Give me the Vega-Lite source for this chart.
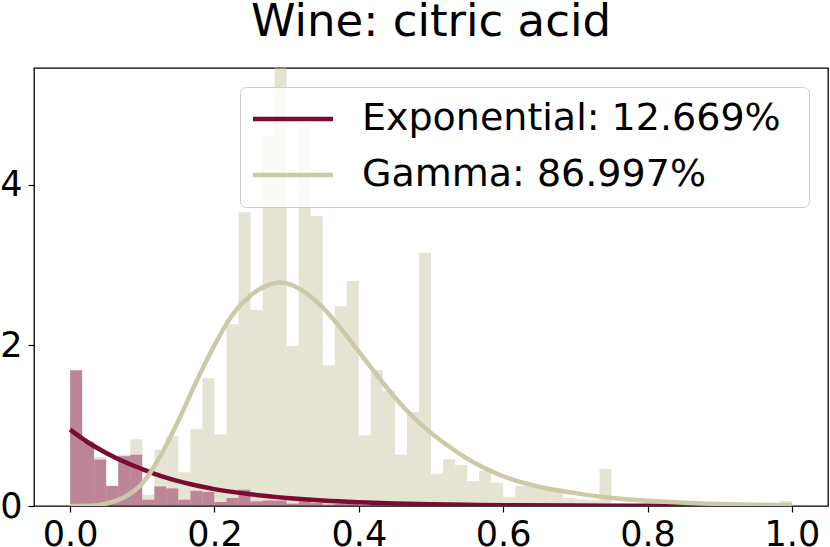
{
  "$schema": "https://vega.github.io/schema/vega-lite/v6.json",
  "width": 794,
  "height": 438,
  "autosize": {"type": "none"},
  "padding": {"left": 34, "top": 68, "right": 2, "bottom": 41},
  "background": "white",
  "config": {
    "view": {"stroke": "#000000", "strokeWidth": 1.3},
    "font": "DejaVu Sans"
  },
  "title": {"text": "Wine: citric acid", "fontSize": 45, "font": "DejaVu Sans", "fontWeight": "normal", "color": "#000000", "anchor": "middle", "offset": 23},
  "datasets": {
    "hist": [
      {"lo": 0, "hi": 0.01667, "Exponential": 1.69, "Gamma": 0},
      {"lo": 0.01667, "hi": 0.03333, "Exponential": 0.80, "Gamma": 0},
      {"lo": 0.03333, "hi": 0.05, "Exponential": 0.58, "Gamma": 0.03},
      {"lo": 0.05, "hi": 0.06667, "Exponential": 0.25, "Gamma": 0},
      {"lo": 0.06667, "hi": 0.08333, "Exponential": 0.62, "Gamma": 0.02},
      {"lo": 0.08333, "hi": 0.1, "Exponential": 0.64, "Gamma": 0.19},
      {"lo": 0.1, "hi": 0.11667, "Exponential": 0.08, "Gamma": 0.06},
      {"lo": 0.11667, "hi": 0.13333, "Exponential": 0.245, "Gamma": 0.455},
      {"lo": 0.13333, "hi": 0.15, "Exponential": 0.22, "Gamma": 0.65},
      {"lo": 0.15, "hi": 0.16667, "Exponential": 0.08, "Gamma": 0.34},
      {"lo": 0.16667, "hi": 0.18333, "Exponential": 0.19, "Gamma": 0.77},
      {"lo": 0.18333, "hi": 0.2, "Exponential": 0.175, "Gamma": 1.415},
      {"lo": 0.2, "hi": 0.21667, "Exponential": 0.05, "Gamma": 0.84},
      {"lo": 0.21667, "hi": 0.23333, "Exponential": 0.10, "Gamma": 2.16},
      {"lo": 0.23333, "hi": 0.25, "Exponential": 0.205, "Gamma": 3.45},
      {"lo": 0.25, "hi": 0.26667, "Exponential": 0.06, "Gamma": 2.38},
      {"lo": 0.26667, "hi": 0.28333, "Exponential": 0.07, "Gamma": 4.54},
      {"lo": 0.28333, "hi": 0.3, "Exponential": 0.07, "Gamma": 5.83},
      {"lo": 0.3, "hi": 0.31667, "Exponential": 0.03, "Gamma": 1.96},
      {"lo": 0.31667, "hi": 0.33333, "Exponential": 0.06, "Gamma": 4.67},
      {"lo": 0.33333, "hi": 0.35, "Exponential": 0.04, "Gamma": 3.57},
      {"lo": 0.35, "hi": 0.36667, "Exponential": 0.02, "Gamma": 1.73},
      {"lo": 0.36667, "hi": 0.38333, "Exponential": 0.03, "Gamma": 2.455},
      {"lo": 0.38333, "hi": 0.4, "Exponential": 0.03, "Gamma": 2.77},
      {"lo": 0.4, "hi": 0.41667, "Exponential": 0.01, "Gamma": 0.87},
      {"lo": 0.41667, "hi": 0.43333, "Exponential": 0.02, "Gamma": 1.67},
      {"lo": 0.43333, "hi": 0.45, "Exponential": 0.02, "Gamma": 1.41},
      {"lo": 0.45, "hi": 0.46667, "Exponential": 0.01, "Gamma": 0.63},
      {"lo": 0.46667, "hi": 0.48333, "Exponential": 0.01, "Gamma": 1.16},
      {"lo": 0.48333, "hi": 0.5, "Exponential": 0.05, "Gamma": 3.10},
      {"lo": 0.5, "hi": 0.51667, "Exponential": 0.005, "Gamma": 0.395},
      {"lo": 0.51667, "hi": 0.53333, "Exponential": 0.005, "Gamma": 0.575},
      {"lo": 0.53333, "hi": 0.55, "Exponential": 0.005, "Gamma": 0.505},
      {"lo": 0.55, "hi": 0.56667, "Exponential": 0.003, "Gamma": 0.307},
      {"lo": 0.56667, "hi": 0.58333, "Exponential": 0.003, "Gamma": 0.437},
      {"lo": 0.58333, "hi": 0.6, "Exponential": 0.002, "Gamma": 0.288},
      {"lo": 0.6, "hi": 0.61667, "Exponential": 0.001, "Gamma": 0.109},
      {"lo": 0.61667, "hi": 0.63333, "Exponential": 0.002, "Gamma": 0.248},
      {"lo": 0.63333, "hi": 0.65, "Exponential": 0.002, "Gamma": 0.258},
      {"lo": 0.65, "hi": 0.66667, "Exponential": 0.002, "Gamma": 0.238},
      {"lo": 0.66667, "hi": 0.68333, "Exponential": 0.002, "Gamma": 0.218},
      {"lo": 0.68333, "hi": 0.7, "Exponential": 0.001, "Gamma": 0.099},
      {"lo": 0.7, "hi": 0.71667, "Exponential": 0.001, "Gamma": 0.079},
      {"lo": 0.71667, "hi": 0.73333, "Exponential": 0.001, "Gamma": 0.069},
      {"lo": 0.73333, "hi": 0.75, "Exponential": 0.003, "Gamma": 0.457},
      {"lo": 0.75, "hi": 0.76667, "Exponential": 0.0, "Gamma": 0.03},
      {"lo": 0.98333, "hi": 1.0, "Exponential": 0.0005, "Gamma": 0.06}
    ],
    "curves": [
      {"x": 0, "y": 0.95, "series": "Exponential: 12.669%"},
      {"x": 0.025, "y": 0.79, "series": "Exponential: 12.669%"},
      {"x": 0.05, "y": 0.66, "series": "Exponential: 12.669%"},
      {"x": 0.075, "y": 0.55, "series": "Exponential: 12.669%"},
      {"x": 0.1, "y": 0.46, "series": "Exponential: 12.669%"},
      {"x": 0.125, "y": 0.375, "series": "Exponential: 12.669%"},
      {"x": 0.15, "y": 0.31, "series": "Exponential: 12.669%"},
      {"x": 0.175, "y": 0.255, "series": "Exponential: 12.669%"},
      {"x": 0.2, "y": 0.21, "series": "Exponential: 12.669%"},
      {"x": 0.25, "y": 0.145, "series": "Exponential: 12.669%"},
      {"x": 0.3, "y": 0.10, "series": "Exponential: 12.669%"},
      {"x": 0.35, "y": 0.068, "series": "Exponential: 12.669%"},
      {"x": 0.4, "y": 0.047, "series": "Exponential: 12.669%"},
      {"x": 0.45, "y": 0.032, "series": "Exponential: 12.669%"},
      {"x": 0.5, "y": 0.022, "series": "Exponential: 12.669%"},
      {"x": 0.55, "y": 0.015, "series": "Exponential: 12.669%"},
      {"x": 0.6, "y": 0.01, "series": "Exponential: 12.669%"},
      {"x": 0.7, "y": 0.005, "series": "Exponential: 12.669%"},
      {"x": 0.8, "y": 0.002, "series": "Exponential: 12.669%"},
      {"x": 0.9, "y": 0.001, "series": "Exponential: 12.669%"},
      {"x": 1.0, "y": 0.0005, "series": "Exponential: 12.669%"},
      {"x": 0, "y": 0, "series": "Gamma: 86.997%"},
      {"x": 0.025, "y": 0.003, "series": "Gamma: 86.997%"},
      {"x": 0.05, "y": 0.03, "series": "Gamma: 86.997%"},
      {"x": 0.075, "y": 0.11, "series": "Gamma: 86.997%"},
      {"x": 0.1, "y": 0.28, "series": "Gamma: 86.997%"},
      {"x": 0.125, "y": 0.62, "series": "Gamma: 86.997%"},
      {"x": 0.15, "y": 1.06, "series": "Gamma: 86.997%"},
      {"x": 0.175, "y": 1.55, "series": "Gamma: 86.997%"},
      {"x": 0.2, "y": 2.0, "series": "Gamma: 86.997%"},
      {"x": 0.225, "y": 2.38, "series": "Gamma: 86.997%"},
      {"x": 0.25, "y": 2.62, "series": "Gamma: 86.997%"},
      {"x": 0.275, "y": 2.75, "series": "Gamma: 86.997%"},
      {"x": 0.29, "y": 2.78, "series": "Gamma: 86.997%"},
      {"x": 0.3, "y": 2.77, "series": "Gamma: 86.997%"},
      {"x": 0.325, "y": 2.66, "series": "Gamma: 86.997%"},
      {"x": 0.35, "y": 2.47, "series": "Gamma: 86.997%"},
      {"x": 0.375, "y": 2.21, "series": "Gamma: 86.997%"},
      {"x": 0.4, "y": 1.92, "series": "Gamma: 86.997%"},
      {"x": 0.425, "y": 1.63, "series": "Gamma: 86.997%"},
      {"x": 0.45, "y": 1.35, "series": "Gamma: 86.997%"},
      {"x": 0.475, "y": 1.11, "series": "Gamma: 86.997%"},
      {"x": 0.5, "y": 0.91, "series": "Gamma: 86.997%"},
      {"x": 0.525, "y": 0.74, "series": "Gamma: 86.997%"},
      {"x": 0.55, "y": 0.59, "series": "Gamma: 86.997%"},
      {"x": 0.575, "y": 0.47, "series": "Gamma: 86.997%"},
      {"x": 0.6, "y": 0.37, "series": "Gamma: 86.997%"},
      {"x": 0.65, "y": 0.24, "series": "Gamma: 86.997%"},
      {"x": 0.7, "y": 0.16, "series": "Gamma: 86.997%"},
      {"x": 0.75, "y": 0.10, "series": "Gamma: 86.997%"},
      {"x": 0.8, "y": 0.065, "series": "Gamma: 86.997%"},
      {"x": 0.85, "y": 0.04, "series": "Gamma: 86.997%"},
      {"x": 0.9, "y": 0.025, "series": "Gamma: 86.997%"},
      {"x": 0.95, "y": 0.015, "series": "Gamma: 86.997%"},
      {"x": 1.0, "y": 0.01, "series": "Gamma: 86.997%"}
    ]
  },
  "layer": [
    {
      "data": {"name": "hist"},
      "transform": [
        {"fold": ["Exponential", "Gamma"], "as": ["part", "h"]},
        {"stack": "h", "groupby": ["lo"], "sort": [{"field": "part", "order": "ascending"}], "as": ["h0", "h1"]}
      ],
      "mark": {"type": "bar", "clip": true, "fillOpacity": 0.5, "strokeWidth": 0, "orient": "vertical"},
      "encoding": {
        "x": {
          "field": "lo", "type": "quantitative",
          "scale": {"domain": [-0.05, 1.05], "nice": false, "zero": false, "padding": 0},
          "axis": {"values": [0, 0.2, 0.4, 0.6, 0.8, 1.0], "format": ".1f", "title": null, "grid": false, "domain": false,
                   "tickSize": 6, "tickWidth": 1.2, "tickColor": "#000000", "labelFontSize": 35, "labelFont": "DejaVu Sans",
                   "labelColor": "#000000", "labelPadding": 5, "labelFlush": false, "labelOverlap": false}
        },
        "x2": {"field": "hi"},
        "y": {
          "field": "h1", "type": "quantitative",
          "scale": {"domain": [0, 5.45], "nice": false, "zero": true, "padding": 0},
          "axis": {"values": [0, 2, 4], "format": "d", "title": null, "grid": false, "domain": false,
                   "tickSize": 6, "tickWidth": 1.2, "tickColor": "#000000", "labelFontSize": 35, "labelFont": "DejaVu Sans",
                   "labelColor": "#000000", "labelPadding": 6, "labelOverlap": false}
        },
        "y2": {"field": "h0"},
        "fill": {"field": "part", "type": "nominal", "scale": {"domain": ["Exponential", "Gamma"], "range": ["#7b0b31", "#ccc9a8"]}, "legend": null}
      }
    },
    {
      "data": {"name": "curves"},
      "mark": {"type": "line", "strokeWidth": 4.5, "clip": true, "interpolate": "monotone"},
      "encoding": {
        "x": {"field": "x", "type": "quantitative"},
        "y": {"field": "y", "type": "quantitative"},
        "stroke": {
          "field": "series", "type": "nominal",
          "scale": {"domain": ["Exponential: 12.669%", "Gamma: 86.997%"], "range": ["#7b0b31", "#ccc9a8"]},
          "legend": {"title": ".", "titleOrient": "right", "titleFontSize": 14, "titlePadding": 9, "titleColor": "transparent",
                     "orient": "top-right", "offset": 19, "symbolType": "M-1.9,0H6.1", "symbolSize": 400,
                     "symbolStrokeWidth": 4.5, "labelFontSize": 38, "labelFont": "DejaVu Sans", "labelColor": "#000000",
                     "labelOffset": 71, "rowPadding": 18, "padding": 13, "fillColor": "rgba(255,255,255,0.8)",
                     "strokeColor": "#cccccc", "cornerRadius": 6, "labelLimit": 700}
        }
      }
    }
  ]
}
